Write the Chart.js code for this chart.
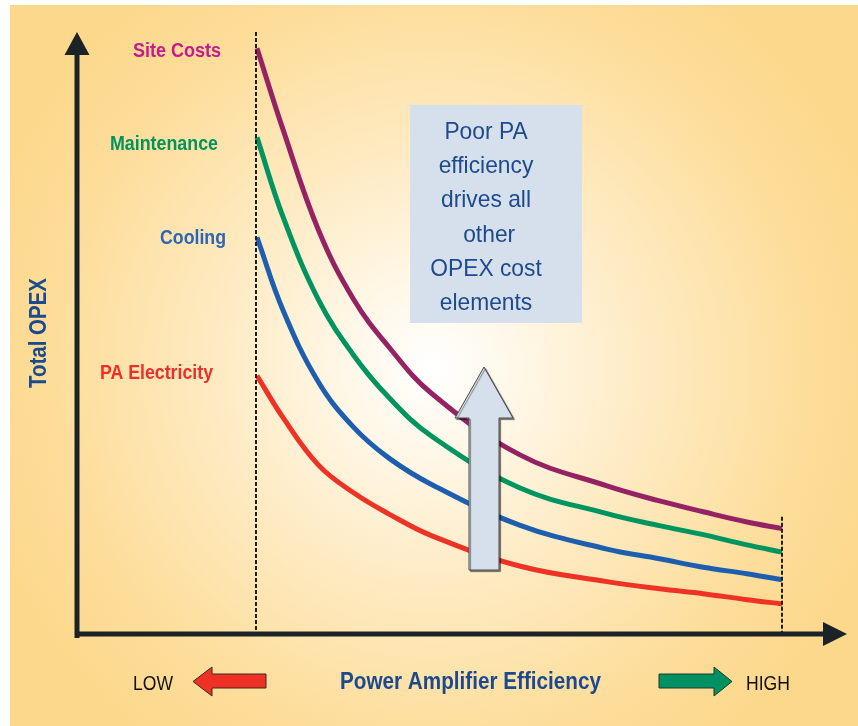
<!DOCTYPE html>
<html>
<head>
<meta charset="utf-8">
<script src="https://cdn.jsdelivr.net/npm/chart.js@4"></script>
<style>
  html, body { margin: 0; padding: 0; background: #fff; }
  canvas { display: block; }
</style>
</head>
<body>
<canvas id="opexChart" width="858" height="726"></canvas>
<script>
// PA efficiency (arbitrary units, LOW -> HIGH) and OPEX levels per cost layer
const efficiency    = [20, 23, 27, 31, 35, 40, 50, 60, 66, 71, 76, 80];
const siteCosts     = [97.3, 83.7, 67.2, 55.7, 47.8, 39.9, 29.8, 24.6, 22.1, 20.3, 18.6, 17.5];
const maintenance   = [82.5, 69.2, 55.6, 46.4, 39.4, 32.8, 24.3, 20.0, 18.0, 16.5, 14.8, 13.6];
const cooling       = [65.9, 53.7, 41.9, 34.4, 29.3, 24.8, 18.1, 14.1, 12.5, 11.1, 10.0, 9.0];
const paElectricity = [42.9, 35.9, 28.1, 23.5, 20.0, 16.3, 11.3, 8.7, 7.5, 6.7, 5.7, 5.0];
const seriesNames   = ['Site Costs', 'Maintenance', 'Cooling', 'PA Electricity'];
const noteLines     = ['Poor PA', 'efficiency', 'drives all', ' other', 'OPEX cost', 'elements'];

const lineColors  = ['#952364', '#00955f', '#1d5fae', '#ee3226'];
const labelColors = ['#c81a8c', '#00935f', '#2c66b5', '#ec2f2a'];
const NAVY = '#1c4a8c';
const INK = '#1b2326';

function pts(ys) {
  return efficiency.map((x, i) => ({ x: x, y: ys[i] }));
}

// draws text squeezed/stretched to a given width
function fitText(ctx, str, x, y, font, color, width, align) {
  ctx.save();
  ctx.font = font;
  ctx.fillStyle = color;
  ctx.textAlign = align || 'left';
  ctx.textBaseline = 'alphabetic';
  const w = ctx.measureText(str).width;
  ctx.translate(x, y);
  ctx.scale(width ? width / w : 1, 1);
  ctx.fillText(str, 0, 0);
  ctx.restore();
}

function poly(ctx, p, fill, stroke) {
  ctx.beginPath();
  ctx.moveTo(p[0][0], p[0][1]);
  for (let i = 1; i < p.length; i++) ctx.lineTo(p[i][0], p[i][1]);
  ctx.closePath();
  ctx.fillStyle = fill;
  ctx.fill();
  ctx.lineWidth = 1;
  ctx.strokeStyle = stroke;
  ctx.stroke();
}

const backdrop = {
  id: 'backdrop',
  beforeDraw(chart) {
    const ctx = chart.ctx;
    ctx.save();
    ctx.fillStyle = '#ffffff';
    ctx.fillRect(0, 0, chart.width, chart.height);
    const g = ctx.createRadialGradient(432, 368, 0, 432, 368, 470);
    g.addColorStop(0, '#ffffff');
    g.addColorStop(0.12, '#fffaf0');
    g.addColorStop(0.45, '#feebc4');
    g.addColorStop(0.8, '#fddd9a');
    g.addColorStop(1, '#fcd88c');
    ctx.fillStyle = g;
    ctx.fillRect(10, 5, chart.width - 10, chart.height - 5);
    ctx.restore();
  }
};

const decorations = {
  id: 'decorations',
  afterDatasetsDraw(chart) {
    const ctx = chart.ctx;
    const xs = chart.scales.x, ys = chart.scales.y;
    const a = chart.chartArea;
    const xLow = xs.getPixelForValue(efficiency[0]);
    const xHigh = xs.getPixelForValue(efficiency[efficiency.length - 1]);
    ctx.save();

    // dashed bounds
    ctx.setLineDash([4, 2]);
    ctx.lineWidth = 2;
    ctx.strokeStyle = '#1e1e1e';
    ctx.beginPath();
    ctx.moveTo(xLow - 1, a.top);
    ctx.lineTo(xLow - 1, a.bottom);
    ctx.moveTo(xHigh, ys.getPixelForValue(siteCosts[siteCosts.length - 1]) - 12);
    ctx.lineTo(xHigh, a.bottom);
    ctx.stroke();
    ctx.setLineDash([]);

    // axes with arrow heads
    ctx.strokeStyle = INK;
    ctx.fillStyle = INK;
    ctx.lineWidth = 5;
    ctx.beginPath();
    ctx.moveTo(a.left, a.top + 20);
    ctx.lineTo(a.left, a.bottom + 4);
    ctx.moveTo(a.left - 2, a.bottom);
    ctx.lineTo(a.right - 22, a.bottom);
    ctx.stroke();
    ctx.beginPath();
    ctx.moveTo(a.left, a.top);
    ctx.lineTo(a.left - 12.5, a.top + 23);
    ctx.lineTo(a.left + 12.5, a.top + 23);
    ctx.closePath();
    ctx.fill();
    ctx.beginPath();
    ctx.moveTo(a.right, a.bottom);
    ctx.lineTo(a.right - 24, a.bottom - 12);
    ctx.lineTo(a.right - 24, a.bottom + 12);
    ctx.closePath();
    ctx.fill();

    // series names
    const labelPos = [[221, 57, 88], [218, 150, 108], [226, 244, 66], [213, 379, 113]];
    seriesNames.forEach((name, i) => {
      const p = labelPos[i];
      fitText(ctx, name, p[0], p[1], 'bold 20px "Liberation Sans", Arial, sans-serif', labelColors[i], p[2], 'right');
    });

    // y title
    ctx.save();
    ctx.translate(46, 333);
    ctx.rotate(-Math.PI / 2);
    fitText(ctx, 'Total OPEX', 0, 0, 'bold 24px "Liberation Sans", Arial, sans-serif', NAVY, 110, 'center');
    ctx.restore();

    // x title and LOW / HIGH
    fitText(ctx, 'Power Amplifier Efficiency', 340, 689, 'bold 23px "Liberation Sans", Arial, sans-serif', NAVY, 261, 'left');
    fitText(ctx, 'LOW', 133, 690, '20px "Liberation Sans", Arial, sans-serif', '#111', 40, 'left');
    fitText(ctx, 'HIGH', 746, 690, '20px "Liberation Sans", Arial, sans-serif', '#111', 44, 'left');

    // red (left) and green (right) arrows
    poly(ctx, [[266, 674], [212, 674], [212, 667], [193, 681.5], [212, 696], [212, 688], [266, 688]], '#ee3124', '#3a2a20');
    poly(ctx, [[659, 674], [714, 674], [714, 667], [732, 681.5], [714, 696], [714, 688], [659, 688]], '#009163', '#1f3a2a');

    // note box
    ctx.fillStyle = '#d6e0ec';
    ctx.fillRect(410, 105, 172, 218);
    noteLines.forEach((t, i) => {
      ctx.font = '24px "Liberation Sans", Arial, sans-serif';
      ctx.fillStyle = NAVY;
      ctx.textAlign = 'center';
      ctx.textBaseline = 'alphabetic';
      ctx.save();
      ctx.translate(486, 139 + i * 34.2);
      ctx.scale(0.95, 1);
      ctx.fillText(t, 0, 0);
      ctx.restore();
    });

    // up arrow with a soft drop shadow
    ctx.save();
    ctx.shadowColor = 'rgba(0,0,0,0.45)';
    ctx.shadowOffsetX = 1.5;
    ctx.shadowOffsetY = 1.5;
    ctx.shadowBlur = 1;
    poly(ctx, [[469, 570], [469, 418], [455, 418], [484, 367], [513, 418], [499, 418], [499, 570]], '#d6e0ec', '#4a4a4a');
    ctx.restore();

    ctx.restore();
  }
};

const datasets = [siteCosts, maintenance, cooling, paElectricity].map((ys, i) => ({
  label: seriesNames[i],
  data: pts(ys),
  borderColor: lineColors[i],
  borderWidth: 5,
  borderCapStyle: 'butt',
  pointRadius: 0,
  fill: false,
  tension: 0.4
}));

new Chart(document.getElementById('opexChart'), {
  type: 'line',
  data: { datasets: datasets },
  options: {
    responsive: false,
    animation: false,
    devicePixelRatio: 1,
    layout: { padding: { left: 77, top: 32, right: 11, bottom: 92 } },
    plugins: { legend: { display: false }, tooltip: { enabled: false } },
    scales: {
      x: { type: 'linear', min: -0.57, max: 87.43, display: false },
      y: { type: 'linear', min: 0, max: 100, display: false }
    }
  },
  plugins: [backdrop, decorations]
});
</script>
</body>
</html>
